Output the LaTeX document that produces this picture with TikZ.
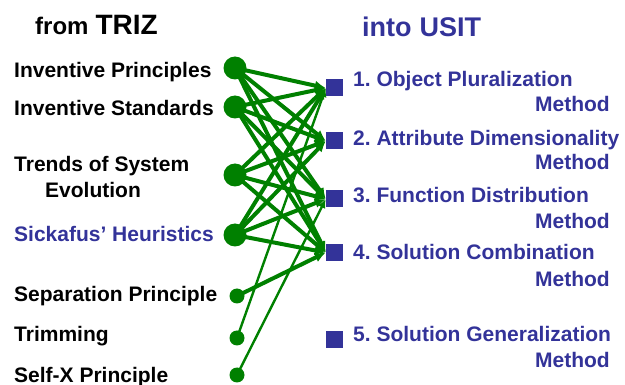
\documentclass[tikz,border=0pt]{standalone}
\usepackage{fontspec}
\setmainfont{Liberation Sans}
\usetikzlibrary{arrows.meta}
\definecolor{usitblue}{RGB}{51,51,153}
\definecolor{trizgreen}{RGB}{0,128,0}
\frenchspacing
\tikzset{
  lbl/.style={anchor=base west,inner sep=0pt,font=\fontsize{21}{25}\selectfont\bfseries},
  rlbl/.style={lbl,text=usitblue},
  meth/.style={anchor=base east,inner sep=0pt,text=usitblue,font=\fontsize{21}{25}\selectfont\bfseries},
  bigdot/.style={circle,fill=trizgreen,inner sep=0pt,minimum size=23pt},
  smalldot/.style={circle,fill=trizgreen,inner sep=0pt,minimum size=15pt},
  sq/.style={rectangle,fill=usitblue,inner sep=0pt,minimum size=17pt},
  thick link/.style={draw=trizgreen,line width=4pt,-{Latex[length=11pt,width=10pt]}},
  thin link/.style={draw=trizgreen,line width=2.4pt,-{Latex[length=9pt,width=8pt]}},
}
\begin{document}
\begin{tikzpicture}[x=1pt,y=-1pt]
\useasboundingbox (0,0) rectangle (625,385);
% titles
\node[anchor=base west,inner sep=0pt] (from) at (35,35) {\fontsize{24}{28}\selectfont\bfseries from\hspace{7pt}\fontsize{28}{32}\selectfont TRIZ};
\node[anchor=base west,inner sep=0pt,text=usitblue] (into) at (362,37) {\fontsize{27}{32}\selectfont\bfseries into\hspace{8pt}USIT};
% left labels
\node[lbl] (l1) at (14,78) {Inventive Principles};
\node[lbl] (l2) at (14,116) {Inventive Standards};
\node[lbl] (l3) at (14,172) {Trends of System};
\node[lbl] (l3b) at (45,198) {Evolution};
\node[lbl,text=usitblue] (l4) at (14,242) {Sickafus’ Heuristics};
\node[lbl] (l5) at (14,302) {Separation Principle};
\node[lbl] (l6) at (14,342) {Trimming};
\node[lbl] (l7) at (14,382) {Self-X Principle};
% right labels
\node[rlbl] (r1) at (353,87) {1. Object Pluralization};
\node[meth] (m1) at (610,112) {Method};
\node[rlbl] (r2) at (353,146) {2. Attribute Dimensionality};
\node[meth] (m2) at (610,170) {Method};
\node[rlbl] (r3) at (353,203) {3. Function Distribution};
\node[meth] (m3) at (610,229) {Method};
\node[rlbl] (r4) at (353,260) {4. Solution Combination};
\node[meth] (m4) at (610,287) {Method};
\node[rlbl] (r5) at (353,342) {5. Solution Generalization};
\node[meth] (m5) at (610,367) {Method};
% dots
\node[bigdot] (d1) at (235,68) {};
\node[bigdot] (d2) at (235,107) {};
\node[bigdot] (d3) at (235,175) {};
\node[bigdot] (d4) at (235,235) {};
\node[smalldot] (d5) at (237,296) {};
\node[smalldot] (d6) at (237,338) {};
\node[smalldot] (d7) at (237,375) {};
% squares
\node[sq] (s1) at (334.5,88) {};
\node[sq] (s2) at (334.5,141) {};
\node[sq] (s3) at (334.5,199) {};
\node[sq] (s4) at (334.5,252.5) {};
\node[sq] (s5) at (334.5,339.5) {};
% links
\foreach \d in {d1,d2,d3,d4}{
  \foreach \s in {s1,s2,s3,s4}{
    \draw[thick link] (\d.center) -- (\s.west);
  }
}
\draw[thick link] (d5.center) -- (s4.west);
\draw[thin link] (d6.center) -- (s1.west);
\draw[thin link] (d7.center) -- (s3.west);
\end{tikzpicture}
\end{document}
